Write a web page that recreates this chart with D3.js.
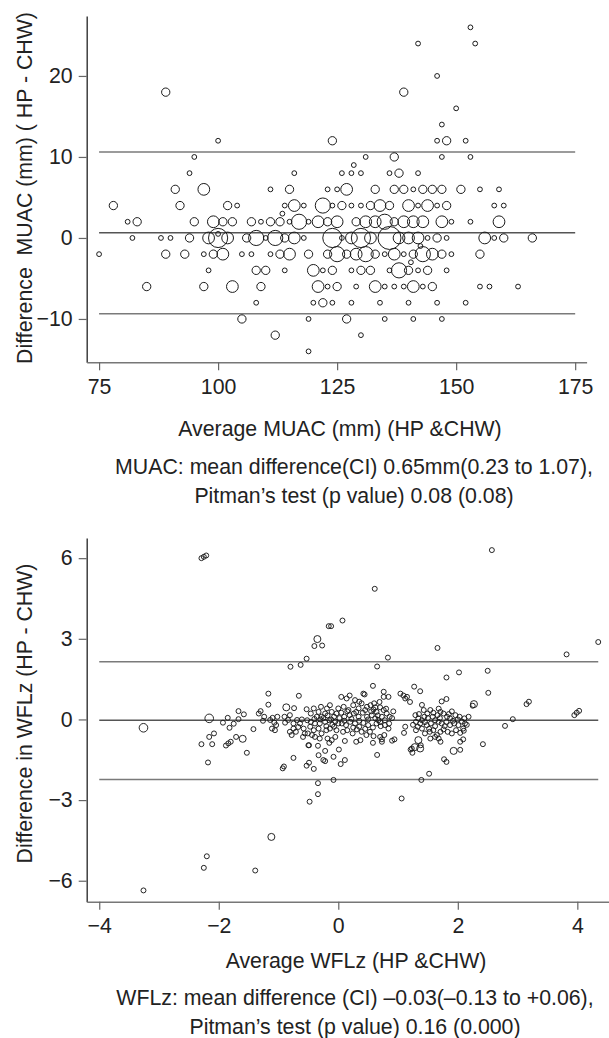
<!DOCTYPE html>
<html>
<head>
<meta charset="utf-8">
<script src="https://cdn.jsdelivr.net/npm/d3@7"></script>
<style>
  html, body { margin: 0; padding: 0; background: #fff; }
  svg { display: block; }
  text { font-family: "Liberation Sans", Arial, Helvetica, sans-serif; fill: #222; }
</style>
</head>
<body>
<svg id="chart" width="609" height="1038"></svg>
<script>
// ---------- DATA: MUAC Bland-Altman (bubble size = number of coinciding pairs) ----------
// [average MUAC (mm), difference HP-CHW (mm), count]
const muacPoints = [
  [153,26,1],[142,24,1],[154,24,1],[146,20,1],[89,18,3],[139,18,3],[150,16,1],[147,14,1],
  [100,12,1],[124,12,3],[146,12,1],[148,12,3],[152,12,1],
  [95,10,1],[131,10,1],[137,10,3],[147,10,1],[153,10,1],[128.5,9,1],
  [94,8,1],[116,8,1],[126,8,1],[128,8,1],[130,8,1],[136,8,1],[138,8,3],[142,8,1],
  [91,6,3],[97,6,6],[111,6,1],[115,6,3],[123,6,1],[125,6,1],[127,6,6],[133,6,3],[137,6,3],[139,6,3],
  [141,6,1],[143,6,3],[145,6,3],[147,6,3],[151,6,3],[155,6,1],[159,6,1],
  [78,4,3],[92,4,3],[102,4,3],[104,4,1],[114,4,1],[116,4,6],[118,4,1],[122,4,10],[124,4,1],[126,4,3],
  [128,4,1],[130,4,1],[132,4,3],[134,4,6],[136,4,3],[140,4,6],[142,4,1],[144,4,6],[146,4,1],[148,4,3],
  [158,4,1],[160,4,1],[113.5,3,1],
  [81,2,1],[83,2,3],[95,2,3],[99,2,6],[101,2,3],[103,2,3],[107,2,3],[109,2,1],[111,2,3],[113,2,3],
  [115,2,1],[117,2,10],[119,2,1],[121,2,6],[123,2,3],[125,2,6],[129,2,3],[131,2,6],[133,2,6],[135,2,10],
  [137,2,3],[139,2,6],[141,2,6],[143,2,6],[147,2,6],[149,2,1],[153,2,1],[159,2,6],
  [100,0.5,1],
  [82,0,1],[88,0,1],[90,0,1],[94,0,3],[98,0,6],[100,0,16],[102,0,6],[106,0,3],[108,0,10],[110,0,1],
  [112,0,10],[114,0,3],[116,0,6],[118,0,1],[124,0,16],[126,0,1],[128,0,6],[130,0,16],[132,0,6],[136,0,23],
  [138,0,6],[140,0,6],[142,0,6],[144,0,1],[146,0,3],[148,0,1],[156,0,6],[158,0,1],[160,0,3],[166,0,3],
  [142.5,-1,1],
  [75,-2,1],[89,-2,3],[93,-2,3],[97,-2,1],[99,-2,3],[101,-2,6],[105,-2,1],[107,-2,1],[111,-2,1],[113,-2,3],
  [115,-2,6],[119,-2,3],[123,-2,3],[125,-2,10],[127,-2,3],[129,-2,6],[131,-2,10],[133,-2,3],[135,-2,1],
  [137,-2,6],[139,-2,1],[141,-2,3],[143,-2,10],[145,-2,6],[147,-2,3],[149,-2,1],[155,-2,3],
  [140.5,-3,1],
  [98,-4,1],[108,-4,3],[110,-4,3],[114,-4,1],[120,-4,6],[122,-4,1],[124,-4,3],[128,-4,1],[130,-4,3],
  [132,-4,3],[136,-4,1],[138,-4,10],[140,-4,3],[142,-4,1],[144,-4,3],[148,-4,1],
  [85,-6,3],[97,-6,3],[103,-6,6],[109,-6,3],[121,-6,6],[123,-6,1],[125,-6,3],[129,-6,1],[133,-6,6],
  [135,-6,1],[137,-6,1],[139,-6,1],[141,-6,6],[143,-6,1],[145,-6,3],[155,-6,1],[157,-6,1],[163,-6,1],
  [108,-8,1],[120,-8,1],[122,-8,3],[124,-8,1],[128,-8,1],[134,-8,1],[140,-8,1],[146,-8,1],[152,-8,1],
  [105,-10,3],[119,-10,1],[127,-10,3],[135,-10,1],[141,-10,1],[147,-10,1],
  [112,-12,3],[130,-12,1],[119,-14,1]
];
const muacLimits = [10.6, 0.65, -9.35];           // upper LoA, mean, lower LoA
const muacXTicks = [75, 100, 125, 150, 175];
const muacYTicks = [-10, 0, 10, 20];

// ---------- DATA: WFLz Bland-Altman ----------
// [average WFLz, difference HP-CHW, marker weight]
const wflPoints = [
  [-2.29,6.0,1],[-2.25,6.05,1],[-2.21,6.1,1],[2.57,6.3,1],[0.61,4.86,1],[0.07,3.68,1],[-0.16,3.47,1],[-0.12,3.47,1],
  [-0.35,2.99,2],[-0.40,2.73,1],[-0.27,2.75,1],[-0.53,2.26,1],[-0.63,2.03,1],[-0.80,1.96,1],
  [1.66,2.66,1],[0.83,2.30,1],[0.65,1.97,1],[4.35,2.88,1],[3.82,2.42,1],[2.50,1.81,1],[2.02,1.75,1],[1.81,1.56,1],
  [2.51,0.99,1],[2.25,0.51,1],[2.27,0.57,2],[3.15,0.57,1],[3.19,0.66,1],[3.95,0.16,1],[3.99,0.25,1],[4.03,0.32,1],
  [2.92,0.01,1],[2.79,-0.24,1],[2.42,-0.92,1],[1.93,-1.17,2],[2.04,-1.13,1],
  [-3.26,-0.31,3],[-3.26,-6.36,1],
  [-2.29,-0.92,1],[-2.18,-1.60,1],[-2.11,-0.92,1],[-2.16,-0.65,1],[-2.08,-0.52,1],[-2.16,0.04,3],
  [-1.93,-0.12,1],[-1.85,0.06,1],[-1.82,-0.31,1],[-1.75,-0.16,1],[-1.88,-0.97,1],[-1.84,-0.89,1],[-1.80,-0.83,1],
  [-1.67,0.31,1],[-1.58,0.19,1],[-1.67,0.01,1],[-1.71,-0.65,1],[-1.60,-0.72,2],[-1.53,-1.24,1],[-1.42,-0.36,1],
  [-1.33,0.22,1],[-1.30,0.31,1],[-1.17,0.96,1],[-1.17,0.55,1],[-1.24,0.10,1],
  [-1.12,-4.37,2],[-2.20,-5.09,1],[-2.25,-5.52,1],[-1.39,-5.62,1],
  [-0.93,-1.82,1],[-0.91,-1.75,1],[-0.75,-1.43,1],[-0.66,0.88,1],[-0.50,-0.96,1],[-0.53,-1.72,1],[-0.49,-1.61,1],
  [-0.41,-1.84,1],[-0.34,-0.98,1],[-0.33,-1.33,1],[-0.22,-1.17,1],[-0.25,-1.51,1],[-0.22,-1.55,1],[-0.34,-2.37,1],
  [-0.34,-2.78,1],[-0.48,-3.06,1],[-0.08,-2.25,1],[-0.08,-1.39,1],[0.01,-1.12,1],[0.11,-1.51,1],[0.04,-1.66,1],
  [1.06,-2.94,1],[1.39,-2.25,1],[1.52,-2.02,1],[1.77,-1.48,1],[1.81,-1.58,1],[1.28,-1.03,2],[1.34,-0.77,2],
  [1.21,-1.12,1],[1.24,-1.24,1],[0.65,-1.32,1],[0.58,-0.87,1],[0.73,-0.74,1],[0.77,-0.58,1],[0.90,-0.79,1],[0.94,-0.74,1],
  [1.27,1.22,1],[1.37,1.05,1],[0.58,1.25,1],[0.76,1.03,1],[0.19,0.89,1],[0.05,0.84,1],[0.42,0.96,1],[0.44,0.93,1],
  [1.04,0.96,1],[1.09,0.89,1],[1.15,0.84,1],[1.81,0.76,1],[1.73,0.67,1],[-0.87,0.45,2],[-0.74,0.42,1],
  [-1.26,-0.05,1],[-1.14,-0.02,1],[-1.10,0.06,1],[-1.07,-0.12,1],[-1.04,-0.21,1],[-1.02,0.10,1],[-1.11,-0.34,1],[-1.06,-0.40,1],
  [-0.90,0.10,1],[-0.84,-0.02,1],[-0.81,0.16,1],[-0.89,-0.12,1],[-0.75,-0.15,1],[-0.69,-0.02,1],[-0.75,-0.34,1],
  [-0.81,-0.46,1],[-0.78,-0.58,1],[-0.71,-0.46,1],[-0.67,-0.28,1],[-0.64,-0.15,1],[-0.61,0.00,1],[-0.58,-0.34,1],
  [-0.56,-0.52,1],[-0.59,-0.65,1],
  [-0.53,0.38,1],[-0.46,0.22,1],[-0.41,0.41,1],[-0.33,0.28,1],[-0.36,0.10,1],[-0.29,0.47,1],[-0.28,0.10,1],[-0.22,0.22,1],
  [-0.19,0.41,1],[-0.14,0.53,1],[-0.11,0.28,1],[-0.07,0.10,1],[-0.03,0.22,1],[0.00,0.41,1],[-0.15,-0.03,1],[-0.22,-0.09,1],
  [-0.31,-0.15,1],[-0.39,-0.15,1],[-0.46,-0.09,1],[-0.52,-0.03,1],[-0.47,-0.27,1],[-0.41,-0.40,1],[-0.33,-0.34,1],
  [-0.28,-0.52,1],[-0.20,-0.40,1],[-0.14,-0.34,1],[-0.07,-0.27,1],[-0.03,-0.40,1],[0.00,-0.15,1],[-0.51,-0.52,1],
  [-0.44,-0.58,1],[-0.39,-0.65,1],[-0.31,-0.71,1],[-0.18,-0.71,1],[-0.11,-0.77,1],[-0.05,-0.65,1],[-0.49,-0.96,1],[-0.15,-0.87,1],
  [0.84,0.84,1],[0.76,0.84,1],[0.69,0.65,1],[1.12,0.78,1],[1.20,0.65,1],[1.40,0.54,1],[1.43,0.35,1],
  [0.14,0.78,1],[0.28,0.72,1],[0.35,0.66,1],[0.09,0.47,1],[0.17,0.35,1],[0.25,0.53,1],[0.34,0.41,1],[0.39,0.60,1],
  [0.48,0.47,1],[0.54,0.53,1],[0.59,0.37,1],[0.64,0.28,1],[0.70,0.45,1],[0.76,0.35,1],[0.81,0.22,1],[0.86,0.10,1],
  [0.10,0.10,1],[0.19,0.16,1],[0.26,0.22,1],[0.34,0.10,1],[0.41,0.25,1],[0.48,0.10,1],[0.56,0.16,1],[0.62,0.04,1],
  [0.67,-0.03,1],[0.73,0.10,1],[0.78,-0.03,1],[0.06,-0.15,1],[0.13,-0.21,1],[0.20,-0.09,1],[0.28,-0.15,1],[0.35,-0.27,1],
  [0.42,-0.13,1],[0.50,-0.21,1],[0.58,-0.30,1],[0.64,-0.15,1],[0.71,-0.25,1],[0.78,-0.21,1],[0.84,-0.34,1],[0.08,-0.46,1],
  [0.15,-0.40,1],[0.24,-0.52,1],[0.31,-0.37,1],[0.39,-0.46,1],[0.47,-0.58,1],[0.53,-0.46,1],[0.59,-0.62,1],[0.11,-0.80,1],
  [0.30,-0.83,1],[0.37,-0.77,1],[0.70,-0.65,1],[0.73,-0.83,1],[1.10,-0.50,1],[1.12,-0.27,1],
  [1.29,0.16,1],[1.34,0.04,1],[1.40,-0.03,1],[1.30,-0.09,1],[1.37,-0.15,1],[1.44,0.10,1],[1.49,0.22,1],[1.54,0.35,1],
  [1.59,0.25,1],[1.66,0.16,1],[1.71,0.28,1],[1.76,0.22,1],[1.82,0.10,1],[1.87,0.04,1],[1.96,0.16,1],[2.03,0.10,1],
  [2.11,0.04,1],[2.18,0.10,1],[1.33,-0.27,1],[1.40,-0.34,1],[1.48,-0.21,1],[1.55,-0.15,1],[1.62,-0.03,1],[1.68,-0.09,1],
  [1.73,-0.15,1],[1.81,-0.09,1],[1.87,-0.21,1],[1.94,-0.15,1],[2.01,-0.21,1],[2.09,-0.34,1],[2.12,-0.15,1],[1.45,-0.52,1],
  [1.53,-0.46,1],[1.59,-0.40,1],[1.65,-0.58,1],[1.71,-0.46,1],[1.76,-0.37,1],[1.83,-0.46,1],[1.90,-0.52,1],[1.97,-0.40,1],
  [2.04,-0.50,1],[2.10,-0.42,1],[1.38,-0.96,1],[1.23,-1.08,1],[1.54,-0.71,1],[1.62,-0.65,1],[1.68,-0.71,1],[1.71,-0.83,1],
  [2.04,-0.83,1],[2.09,-0.74,1],[1.37,-1.08,2],
  [-0.25,0.05,1],[-0.18,0.15,1],[-0.12,0.00,1],[-0.05,-0.08,1],[-0.10,-0.20,1],[-0.20,-0.25,1],[-0.30,0.00,1],[-0.40,0.02,1],
  [0.02,0.05,1],[0.05,0.25,1],[0.10,-0.05,1],[0.15,0.30,1],[0.22,0.02,1],[0.30,0.28,1],[0.35,-0.05,1],[0.45,0.35,1],
  [0.50,0.00,1],[0.55,0.30,1],[0.62,0.45,1],[0.66,0.15,1],[0.70,-0.10,1],[0.80,0.40,1],[0.85,-0.15,1],[0.90,0.05,1],
  [0.92,0.30,1],[0.60,0.60,1],[0.45,-0.35,1],[0.25,-0.30,1],
  [1.35,0.20,1],[1.45,-0.10,1],[1.50,0.05,1],[1.58,0.10,1],[1.62,-0.25,1],[1.70,0.05,1],[1.78,-0.25,1],[1.85,0.20,1],
  [1.92,-0.05,1],[2.00,0.00,1],[2.07,-0.08,1],[1.52,-0.35,1],[1.68,0.40,1],[1.90,0.30,1],[1.25,-0.20,1],[1.30,-0.40,1],[2.15,-0.20,1]
];
const wflLimits = [2.15, -0.03, -2.23];
const wflXTicks = [-4, -2, 0, 2, 4];
const wflYTicks = [-6, -3, 0, 3, 6];

// ---------- TEXT ----------
const muacYLabel = "Difference  MUAC (mm) ( HP - CHW)";
const muacXLabel = "Average MUAC (mm) (HP &CHW)";
const muacCaption = ["MUAC: mean difference(CI) 0.65mm(0.23 to 1.07),", "Pitman\u2019s test (p value) 0.08 (0.08)"];
const wflYLabel = "Difference in WFLz (HP - CHW)";
const wflXLabel = "Average WFLz (HP &CHW)";
const wflCaption = ["WFLz: mean difference (CI) \u20130.03(\u20130.13 to +0.06),", "Pitman\u2019s test (p value) 0.16 (0.000)"];

// ---------- DRAW ----------
const svg = d3.select("#chart");
svg.append("rect").attr("width", 609).attr("height", 1038).attr("fill", "#fff");
const FS = 21.3;
const fmt = d => d < 0 ? "\u2212" + Math.abs(d) : String(d);

function panel(cfg) {
  const g = svg.append("g");
  const x = d3.scaleLinear().domain(cfg.xDom).range(cfg.xRange);
  const y = d3.scaleLinear().domain(cfg.yDom).range(cfg.yRange);
  const r = d3.scaleSqrt().domain(cfg.rDom).range(cfg.rRange);

  // reference lines (limits of agreement and mean)
  g.selectAll("line.ref").data(cfg.limits).join("line")
    .attr("class", "ref")
    .attr("x1", x(cfg.refX[0])).attr("x2", x(cfg.refX[1]))
    .attr("y1", d => y(d)).attr("y2", d => y(d))
    .attr("stroke", (d, i) => i === 1 ? "#555" : "#7a7a7a")
    .attr("stroke-width", 1.5);

  // points
  g.selectAll("circle").data(cfg.points).join("circle")
    .attr("cx", d => x(d[0])).attr("cy", d => y(d[1])).attr("r", d => r(d[2]))
    .attr("fill", "none").attr("stroke", "#1a1a1a").attr("stroke-width", cfg.sw);

  // axes
  const ya = g.append("g").attr("transform", `translate(${cfg.xRange[0]},0)`)
    .call(d3.axisLeft(y).tickValues(cfg.yTicks).tickSize(8).tickSizeOuter(0).tickPadding(6).tickFormat(fmt));
  const xa = g.append("g").attr("transform", `translate(0,${cfg.yRange[0]})`)
    .call(d3.axisBottom(x).tickValues(cfg.xTicks).tickSize(8).tickSizeOuter(0).tickPadding(8.5).tickFormat(fmt));
  ya.select(".domain").attr("stroke", "#333").attr("stroke-width", 1.4);
  xa.select(".domain").attr("stroke", "#777").attr("stroke-width", 1.6);
  [ya, xa].forEach(a => {
    a.selectAll(".tick line").attr("stroke", "#666").attr("stroke-width", 1.2);
    a.selectAll(".tick text").attr("font-size", FS).attr("fill", "#222")
      .style("font-family", "'Liberation Sans', Arial, sans-serif");
  });

  // titles
  g.append("text").attr("transform", `translate(${cfg.yLabelPos[0]},${cfg.yLabelPos[1]}) rotate(-90)`)
    .attr("text-anchor", "middle").attr("font-size", FS).style("white-space", "pre").text(cfg.yLabel);
  g.append("text").attr("x", cfg.xLabelPos[0]).attr("y", cfg.xLabelPos[1])
    .attr("text-anchor", "middle").attr("font-size", FS).text(cfg.xLabel);
  cfg.caption.forEach((t, i) => {
    g.append("text").attr("x", cfg.capPos[0]).attr("y", cfg.capPos[1] + i * 29.5)
      .attr("text-anchor", "middle").attr("font-size", FS).text(t);
  });
}

panel({
  points: muacPoints, limits: muacLimits, xTicks: muacXTicks, yTicks: muacYTicks,
  xDom: [72.4, 177.4], xRange: [86.7, 586.6],
  yDom: [-15.35, 27.4], yRange: [362.3, 16],
  rDom: [0, 23], rRange: [0, 11.5], sw: 1,
  refX: [75, 175],
  yLabel: muacYLabel, yLabelPos: [32, 188],
  xLabel: muacXLabel, xLabelPos: [340, 435.5],
  caption: muacCaption, capPos: [354, 473.5]
});

panel({
  points: wflPoints, limits: wflLimits, xTicks: wflXTicks, yTicks: wflYTicks,
  xDom: [-4.21, 4.53], xRange: [86.7, 609],
  yDom: [-6.78, 6.75], yRange: [901.7, 538],
  rDom: [0, 3], rRange: [0, 4.3], sw: 0.95,
  refX: [-4, 4.35],
  yLabel: wflYLabel, yLabelPos: [32, 713.5],
  xLabel: wflXLabel, xLabelPos: [356, 967.5],
  caption: wflCaption, capPos: [355, 1004.5]
});
</script>
</body>
</html>
